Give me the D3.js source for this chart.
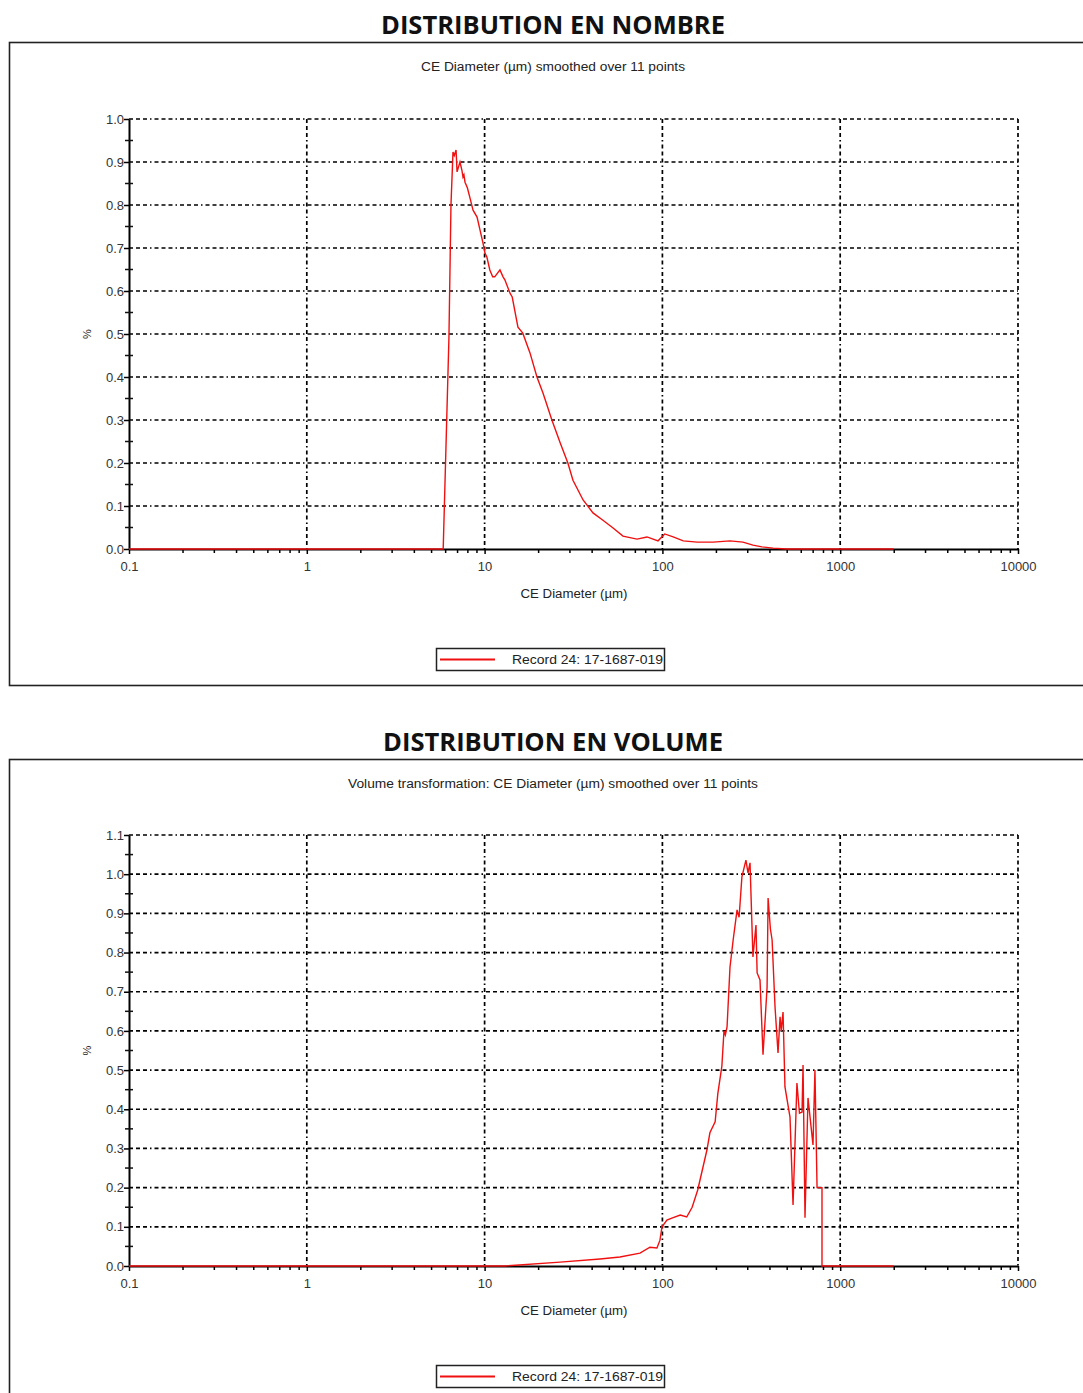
<!DOCTYPE html>
<html>
<head>
<meta charset="utf-8">
<script src="https://cdn.jsdelivr.net/npm/d3@7"></script>
<style>
body{margin:0;background:#fff;}
</style>
</head>
<body>
<script>
const svg_width = 1083, svg_height = 1393;

// x axis (log, µm)
const xTickValues = [0.1, 1, 10, 100, 1000, 10000];
const xTickLabels = ["0.1", "1", "10", "100", "1000", "10000"];

// number distribution, [diameter µm, %]
const numberCurve = [[0.1,0],[5.85,0],[6.3,0.49],[6.47,0.80],[6.64,0.923],[6.75,0.915],[6.91,0.928],[7.0,0.877],[7.27,0.90],
  [7.46,0.88],[7.56,0.865],[7.65,0.87],[7.76,0.853],[8.0,0.84],[8.28,0.816],[8.61,0.788],[9.07,0.772],[9.42,0.742],[9.79,0.712],
  [10.05,0.688],[10.3,0.679],[10.7,0.649],[11.1,0.633],[11.4,0.633],[12.2,0.649],[12.7,0.633],[13.0,0.626],
  [13.9,0.595],[14.3,0.586],[15.4,0.516],[16.4,0.502],[18.0,0.456],[19.7,0.40],[21.3,0.363],[23.9,0.30],
  [26.6,0.247],[29.4,0.2],[31.4,0.16],[35.8,0.114],[40.7,0.084],[46.3,0.067],[52.8,0.049],[60.0,0.03],
  [72.0,0.023],[81.9,0.028],[94.5,0.019],[103,0.035],[115,0.028],[131,0.019],[157,0.016],[193,0.016],
  [240,0.019],[284,0.016],[323,0.009],[363,0.005],[419,0.002],[502,0],[2000,0]];

// volume distribution, [diameter µm, %]
const volumeCurve = [[0.1,0],[13,0],[26.6,0.01],[44.6,0.018],[57.7,0.023],[74.8,0.033],[85.1,0.048],[93.2,0.046],
  [96.9,0.066],[99.5,0.10],[106,0.117],[113,0.122],[126,0.13],[137,0.125],[147,0.15],[158,0.194],[178,0.296],
  [185,0.34],[198,0.368],[205,0.44],[216,0.51],[222,0.6],[226,0.59],[231,0.61],[240,0.763],[250,0.832],[263,0.909],
  [270,0.89],[280,0.993],[295,1.036],[303,1.003],[311,1.029],[323,0.789],[336,0.87],[341,0.748],[354,0.73],
  [368,0.539],[388,0.712],[393,0.939],[405,0.86],[414,0.832],[430,0.661],[447,0.544],[459,0.636],[466,0.6],
  [477,0.648],[489,0.457],[522,0.38],[543,0.156],[571,0.467],[590,0.39],[610,0.393],[618,0.513],[634,0.123],
  [659,0.429],[703,0.309],[721,0.5],[741,0.2],[790,0.2],[790,0],[2000,0]];

const panelTitles = ["DISTRIBUTION EN NOMBRE", "DISTRIBUTION EN VOLUME"];
const panelSubtitles = ["CE Diameter (µm) smoothed over 11 points",
  "Volume transformation: CE Diameter (µm) smoothed over 11 points"];
const yMaxValues = [1.0, 1.1];
const xAxisLabel = "CE Diameter (µm)";
const yAxisLabel = "%";
const legendLabel = "Record 24: 17-1687-019";

var svgContainer = d3.select("body")
  .append("svg")
  .attr("width", svg_width)
  .attr("height", svg_height);

const gridDash = "4,3,4,3,4,3,1.5,3";
const tickFont = "'Liberation Sans', Arial, sans-serif";

drawPanel({top: 42, bottom: 685, plotTop: 119, plotBottom: 549, titleW: 344, subW: 264,
  title: panelTitles[0], subtitle: panelSubtitles[0], yMax: yMaxValues[0], data: numberCurve});
drawPanel({top: 759, bottom: 1405, plotTop: 835, plotBottom: 1266, titleW: 340, subW: 410,
  title: panelTitles[1], subtitle: panelSubtitles[1], yMax: yMaxValues[1], data: volumeCurve});

function drawPanel(p){
  const left = 129, right = 1018;
  var g = svgContainer.append("g");

  // frame
  g.append("rect")
    .attr("x", 9.5).attr("y", p.top + 0.5)
    .attr("width", 1090).attr("height", p.bottom - p.top)
    .attr("fill", "none").attr("stroke", "#222").attr("stroke-width", 1.6);

  g.append("text")
    .attr("x", 553).attr("y", p.top - 8)
    .attr("text-anchor", "middle")
    .attr("font-family", "'Open Sans', sans-serif").attr("font-weight", "bold")
    .attr("font-size", 25)
    .attr("textLength", p.titleW).attr("lengthAdjust", "spacingAndGlyphs")
    .attr("fill", "#111")
    .text(p.title);

  g.append("text")
    .attr("x", 553).attr("y", p.top + 29)
    .attr("text-anchor", "middle")
    .attr("font-family", tickFont).attr("font-size", 12)
    .attr("textLength", p.subW).attr("lengthAdjust", "spacingAndGlyphs")
    .attr("fill", "#222")
    .text(p.subtitle);

  var x = d3.scaleLog().domain([0.1, 10000]).range([left, right]);
  var y = d3.scaleLinear().domain([0, p.yMax]).range([p.plotBottom, p.plotTop]);

  var yMajor = d3.range(0, Math.round(p.yMax * 10) + 1).map(function(i){ return i / 10; });
  var yMinor = d3.range(0, Math.round(p.yMax * 10)).map(function(i){ return i / 10 + 0.05; });
  var xMinor = [];
  for (var dec = 0.1; dec < 10000; dec *= 10) {
    for (var k = 2; k <= 9; k++) xMinor.push(dec * k);
  }

  // grid
  var grid = g.append("g").attr("stroke", "#000").attr("stroke-width", 1.7)
    .attr("stroke-dasharray", gridDash);
  grid.selectAll("line.h")
    .data(yMajor.slice(1))
    .enter().append("line")
    .attr("x1", left).attr("x2", right)
    .attr("y1", function(d){ return y(d); }).attr("y2", function(d){ return y(d); });
  grid.selectAll("line.v")
    .data(xTickValues.slice(1))
    .enter().append("line")
    .attr("x1", function(d){ return x(d); }).attr("x2", function(d){ return x(d); })
    .attr("y1", p.plotTop).attr("y2", p.plotBottom);

  // y axis
  var yAxis = g.append("g")
    .attr("transform", "translate(" + left + ",0)")
    .call(d3.axisLeft(y).tickValues(yMajor).tickSize(5).tickSizeOuter(0)
      .tickPadding(0).tickFormat(d3.format(".1f")));
  yAxis.select(".domain").attr("stroke-width", 2);
  yAxis.selectAll(".tick line").attr("stroke-width", 1.5);
  yAxis.selectAll("text").attr("font-family", tickFont).attr("font-size", 13).attr("fill", "#333");
  g.append("g").selectAll("line")
    .data(yMinor)
    .enter().append("line")
    .attr("x1", left - 4).attr("x2", left + 4)
    .attr("y1", function(d){ return y(d); }).attr("y2", function(d){ return y(d); })
    .attr("stroke", "#111").attr("stroke-width", 1.5);

  // x axis
  var xAxisMinor = g.append("g")
    .attr("transform", "translate(0," + p.plotBottom + ")")
    .call(d3.axisBottom(x).tickValues(xMinor).tickSize(4).tickSizeOuter(0).tickFormat(""));
  xAxisMinor.select(".domain").remove();
  xAxisMinor.selectAll(".tick line").attr("stroke-width", 1.5);

  var xAxis = g.append("g")
    .attr("transform", "translate(0," + p.plotBottom + ")")
    .call(d3.axisBottom(x).tickValues(xTickValues).tickSize(5).tickSizeOuter(0)
      .tickPadding(8).tickFormat(function(d, i){ return xTickLabels[i]; }));
  xAxis.select(".domain").attr("stroke-width", 2);
  xAxis.selectAll(".tick line").attr("stroke-width", 1.5);
  xAxis.selectAll("text").attr("font-family", tickFont).attr("font-size", 13).attr("fill", "#333");

  // curve
  var svgLineFunction = d3.line()
    .x(function(d){ return x(d[0]); })
    .y(function(d){ return y(d[1]); });
  g.append("path")
    .attr("d", svgLineFunction(p.data))
    .attr("stroke", "#f01010")
    .attr("stroke-width", 1.4)
    .attr("fill", "none");

  // axis labels
  g.append("text")
    .attr("x", 574).attr("y", p.plotBottom + 49)
    .attr("text-anchor", "middle")
    .attr("font-family", tickFont).attr("font-size", 12)
    .attr("textLength", 107).attr("lengthAdjust", "spacingAndGlyphs")
    .attr("fill", "#222")
    .text(xAxisLabel);

  g.append("text")
    .attr("transform", "translate(91," + ((p.plotTop + p.plotBottom) / 2) + ") rotate(-90)")
    .attr("text-anchor", "middle")
    .attr("font-family", tickFont).attr("font-size", 11)
    .attr("fill", "#222")
    .text(yAxisLabel);

  // legend
  var ly = p.plotBottom + 99;
  g.append("rect")
    .attr("x", 436.5).attr("y", ly + 0.5)
    .attr("width", 228).attr("height", 22)
    .attr("fill", "#fff").attr("stroke", "#222").attr("stroke-width", 1.5);
  g.append("line")
    .attr("x1", 440).attr("x2", 495)
    .attr("y1", ly + 11.5).attr("y2", ly + 11.5)
    .attr("stroke", "#f01010").attr("stroke-width", 1.8);
  g.append("text")
    .attr("x", 512).attr("y", ly + 16)
    .attr("font-family", tickFont).attr("font-size", 12)
    .attr("textLength", 151).attr("lengthAdjust", "spacingAndGlyphs")
    .attr("fill", "#222")
    .text(legendLabel);
}
</script>
</body>
</html>
